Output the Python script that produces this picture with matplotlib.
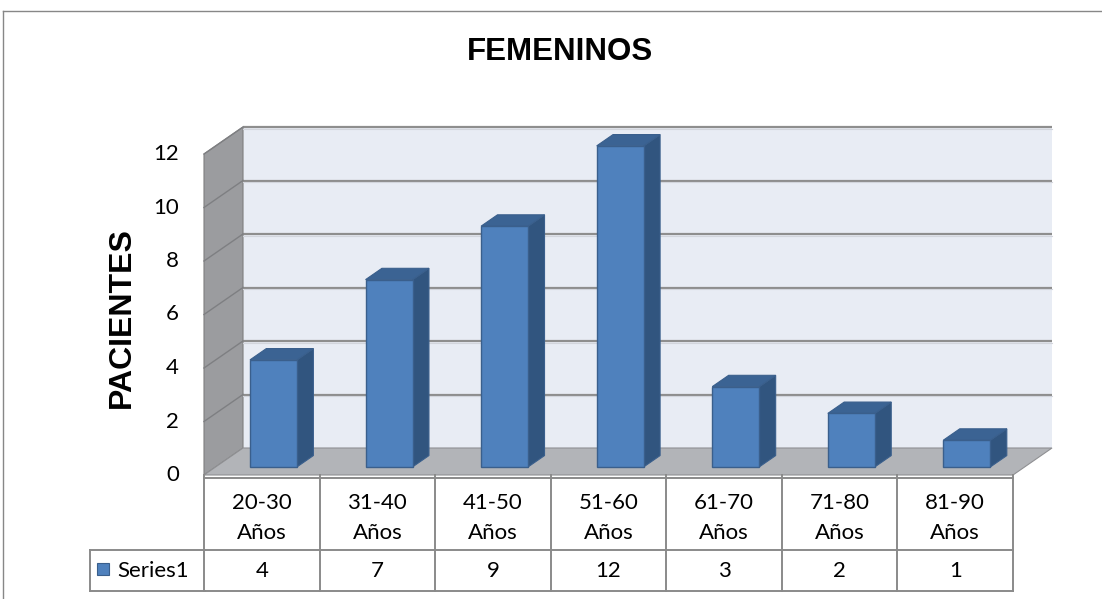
import matplotlib
matplotlib.use("Agg")
import matplotlib.pyplot as plt
from matplotlib.patches import Polygon, Rectangle
from matplotlib.transforms import blended_transform_factory
from matplotlib.lines import Line2D

# ---- data ----
categories = ["20-30 Años", "31-40 Años", "41-50 Años", "51-60 Años",
              "61-70 Años", "71-80 Años", "81-90 Años"]
values = [4, 7, 9, 12, 3, 2, 1]
series_name = "Series1"
y_ticks = [0, 2, 4, 6, 8, 10, 12]
title = "FEMENINOS"
y_label = "PACIENTES"

# ---- style ----
W, H = 1102, 599
FONT = "Lato"
TITLE_FONT = "Liberation Sans"
wall_c = "#e8ecf4"
grid_c = "#8e8e8e"
floor_c = "#b2b4b8"
side_c = "#9b9c9f"
bar_front = "#4f81bd"
bar_side = "#31557f"
bar_top = "#3b6393"
bar_edge = "#3a5f8c"
table_c = "#8a8a8a"

fig = plt.figure(figsize=(W / 100, H / 100), dpi=100)
# back wall axes in pixel layout
L, R, T, B = 243, 1052, 127, 448
ax = fig.add_axes([L / W, 1 - B / H, (R - L) / W, (B - T) / H])
n = len(categories)
ax.set_xlim(0, n)
ax.set_ylim(0, max(y_ticks))
ax.axis("off")

# depth offset of front plane, in pixels -> data units
px_x = (R - L) / n
px_y = (B - T) / max(y_ticks)
DX = -39 / px_x
DY = -27 / px_y

# back wall
ax.add_patch(Rectangle((0, 0), n, max(y_ticks), facecolor=wall_c, edgecolor="none", zorder=0))
# left side wall
ax.add_patch(Polygon([(0, 0), (0, max(y_ticks)), (DX, max(y_ticks) + DY), (DX, DY)],
                     closed=True, facecolor=side_c, edgecolor="#7f7f7f", lw=0.8,
                     clip_on=False, zorder=1))
# floor
ax.add_patch(Polygon([(0, 0), (n, 0), (n + DX, DY), (DX, DY)], closed=True,
                     facecolor=floor_c, edgecolor="#8f9093", lw=0.8, clip_on=False, zorder=1))

# gridlines
for v in y_ticks:
    if v == 0:
        continue
    ax.plot([0, n], [v, v], color=grid_c, lw=1.6, zorder=2, clip_on=False, solid_capstyle="butt")
    ax.plot([0, n], [v - 0.06, v - 0.06], color="#d2d5dc", lw=0.8, zorder=2, clip_on=False)
    ax.plot([0, DX], [v, v + DY], color="#7e7f82", lw=1.0, zorder=2, clip_on=False)

# tick labels (front plane)
for v in y_ticks:
    ax.annotate(str(v), xy=(DX, v + DY), xytext=(-25, 0), textcoords="offset pixels",
                ha="right", va="center", fontsize=16, family=FONT, annotation_clip=False)

# bars
bw = 0.407
ff, fb = 0.70, 0.28
fx, fy = DX * ff, DY * ff
bx, by = DX * fb, DY * fb
for i, v in enumerate(values):
    x0 = i + 0.5 - bw / 2
    x1 = i + 0.5 + bw / 2
    # side
    ax.add_patch(Polygon([(x1 + fx, fy), (x1 + bx, by), (x1 + bx, v + by), (x1 + fx, v + fy)],
                         closed=True, facecolor=bar_side, edgecolor=bar_edge, lw=0.8,
                         clip_on=False, zorder=4))
    # top
    ax.add_patch(Polygon([(x0 + fx, v + fy), (x0 + bx, v + by), (x1 + bx, v + by), (x1 + fx, v + fy)],
                         closed=True, facecolor=bar_top, edgecolor=bar_edge, lw=0.8,
                         clip_on=False, zorder=4))
    # front
    ax.add_patch(Rectangle((x0 + fx, fy), bw, v, facecolor=bar_front, edgecolor=bar_edge,
                           lw=1.0, clip_on=False, zorder=5))

# ---- data table ----
tr = blended_transform_factory(ax.transData, fig.transFigure)
def fy_(p):
    return 1 - p / H
row_top, row_mid, row_bot = 478, 550, 591
xs = [i + DX for i in range(n + 1)]
for x in xs:
    fig.add_artist(Line2D([x, x], [fy_(475), fy_(row_bot)], transform=tr, color=table_c, lw=1.4))
fig.add_artist(Line2D([xs[0], xs[-1]], [fy_(row_top), fy_(row_top)], transform=tr, color=table_c, lw=1.4))
# series header cell spans left
sx0 = 90 / W
fig.add_artist(Line2D([sx0, 205 / W], [fy_(row_mid), fy_(row_mid)], color=table_c, lw=1.4))
fig.add_artist(Line2D([sx0, 205 / W], [fy_(row_bot), fy_(row_bot)], color=table_c, lw=1.4))
fig.add_artist(Line2D([sx0, sx0], [fy_(row_mid), fy_(row_bot)], color=table_c, lw=1.4))
fig.add_artist(Line2D([xs[0], xs[-1]], [fy_(row_mid), fy_(row_mid)], transform=tr, color=table_c, lw=1.4))
fig.add_artist(Line2D([xs[0], xs[-1]], [fy_(row_bot), fy_(row_bot)], transform=tr, color=table_c, lw=1.4))

for i, (c, v) in enumerate(zip(categories, values)):
    xc = i + 0.5 + DX
    l1, l2 = c.split(" ", 1)
    fig.text(xc, fy_(503), l1, transform=tr, ha="center", va="center", fontsize=16, family=FONT)
    fig.text(xc, fy_(533), l2, transform=tr, ha="center", va="center", fontsize=16, family=FONT)
    fig.text(xc, fy_(571), str(v), transform=tr, ha="center", va="center", fontsize=16, family=FONT)

# legend key + series name
fig.add_artist(Rectangle((97 / W, fy_(575)), 12 / W, 12 / H, facecolor=bar_front,
                         edgecolor=bar_edge, lw=0.8))
fig.text(117 / W, fy_(571), series_name, ha="left", va="center", fontsize=16, family=FONT)

# titles
fig.text(560 / W, fy_(52), title, ha="center", va="center", fontsize=22.5,
         fontweight="bold", family=TITLE_FONT)
fig.text(122 / W, fy_(318), y_label, ha="center", va="center", rotation=90, fontsize=23,
         fontweight="bold", family=TITLE_FONT)

# outer chart border
fig.add_artist(Line2D([3 / W, 3 / W], [0, fy_(11)], color="#878787", lw=1.0))
fig.add_artist(Line2D([3 / W, 1], [fy_(11), fy_(11)], color="#878787", lw=1.0))

fig.savefig("out.png", dpi=100)
